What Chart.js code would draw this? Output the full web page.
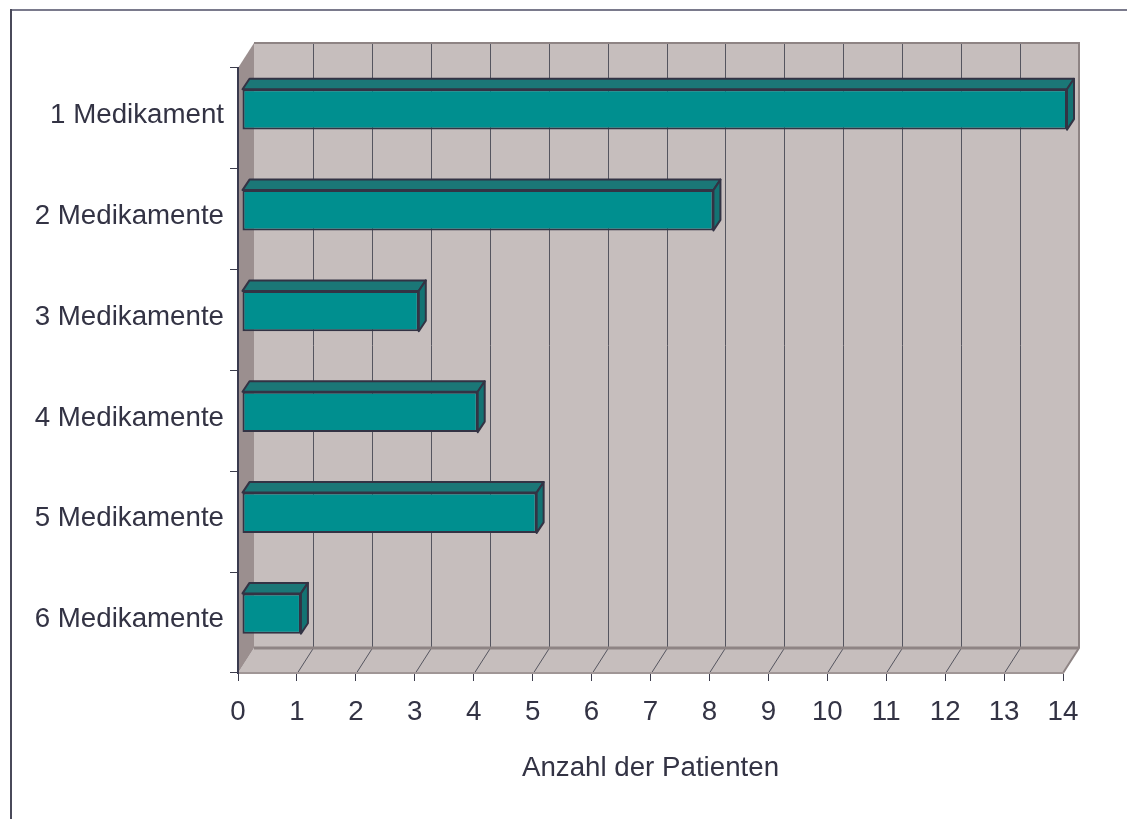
<!DOCTYPE html>
<html>
<head>
<meta charset="utf-8">
<script src="https://cdn.jsdelivr.net/npm/chart.js@4/dist/chart.umd.min.js"></script>
<style>
  html, body { margin: 0; padding: 0; background: #fff; }
  canvas { display: block; }
</style>
</head>
<body>
<canvas id="chart" width="1127" height="819"></canvas>
<script>
const categories = ['1 Medikament', '2 Medikamente', '3 Medikamente', '4 Medikamente', '5 Medikamente', '6 Medikamente'];
const patients = [14, 8, 3, 4, 5, 1];
const xMin = 0;
const xMax = 14;
const xStep = 1;
const axisTitle = 'Anzahl der Patienten';

const FONT = "'Liberation Sans', Arial, sans-serif";
const textColor = '#333344';
const wallColor = '#c6bebd';
const sideWallColor = '#9b8f8f';
const edgeColor = '#8e8484';
const depth = { x: 16, y: -25 };      // back wall offset
const barDepth = { x: 7, y: -10.5 };  // bar top/side faces
const barShift = { x: 4, y: -9 };     // bars sit a bit into the box

const scene = {
  id: 'scene',
  beforeDraw(chart) {
    const { ctx, chartArea: a } = chart;
    const x = chart.scales.x;
    ctx.save();
    ctx.fillStyle = '#fff';
    ctx.fillRect(0, 0, chart.width, chart.height);

    // outer frame (only top and left visible)
    ctx.lineWidth = 2;
    ctx.strokeStyle = '#7a7a8c';
    ctx.beginPath(); ctx.moveTo(10, 10); ctx.lineTo(chart.width, 10); ctx.stroke();
    ctx.strokeStyle = '#4a4a5a';
    ctx.beginPath(); ctx.moveTo(11, 9); ctx.lineTo(11, chart.height); ctx.stroke();

    const bl = a.left + depth.x, br = a.right + depth.x;
    const bt = a.top + depth.y, bb = a.bottom + depth.y;

    // back wall
    ctx.fillStyle = wallColor;
    ctx.fillRect(bl, bt, br - bl, bb - bt);

    // floor
    ctx.beginPath();
    ctx.moveTo(a.left, a.bottom);
    ctx.lineTo(bl, bb);
    ctx.lineTo(br, bb);
    ctx.lineTo(a.right, a.bottom);
    ctx.closePath();
    ctx.fill();

    // left wall
    ctx.fillStyle = sideWallColor;
    ctx.beginPath();
    ctx.moveTo(a.left, a.top);
    ctx.lineTo(bl, bt);
    ctx.lineTo(bl, bb);
    ctx.lineTo(a.left, a.bottom);
    ctx.closePath();
    ctx.fill();

    // grid on back wall and floor
    ctx.strokeStyle = '#55555f';
    ctx.lineWidth = 1;
    x.ticks.forEach(t => {
      if (t.value <= xMin || t.value >= xMax) return;
      const px = Math.round(x.getPixelForValue(t.value)) + 0.5;
      ctx.beginPath();
      ctx.moveTo(px + depth.x, bt);
      ctx.lineTo(px + depth.x, bb);
      ctx.moveTo(px, a.bottom);
      ctx.lineTo(px + depth.x, bb);
      ctx.stroke();
    });

    // box edges
    ctx.strokeStyle = edgeColor;
    ctx.lineWidth = 2;
    ctx.beginPath();
    ctx.moveTo(bl, bt);
    ctx.lineTo(br, bt);
    ctx.lineTo(br, bb);
    ctx.lineTo(a.right, a.bottom);
    ctx.stroke();
    ctx.lineWidth = 3;
    ctx.beginPath();
    ctx.moveTo(bl, bb);
    ctx.lineTo(br, bb);
    ctx.stroke();
    ctx.restore();
  },
  beforeDatasetsDraw(chart) {
    chart.ctx.save();
    chart.ctx.translate(barShift.x, barShift.y);
  },
  afterDatasetsDraw(chart) {
    const ctx = chart.ctx;
    const meta = chart.getDatasetMeta(0);
    ctx.lineWidth = 2;
    ctx.lineJoin = 'round';
    ctx.strokeStyle = '#333344';
    meta.data.forEach(bar => {
      const { x, y, base, height } = bar.getProps(['x', 'y', 'base', 'height'], true);
      const top = y - height / 2, bottom = y + height / 2;
      // top face
      ctx.fillStyle = '#1b7777';
      ctx.beginPath();
      ctx.moveTo(base, top);
      ctx.lineTo(base + barDepth.x, top + barDepth.y);
      ctx.lineTo(x + barDepth.x, top + barDepth.y);
      ctx.lineTo(x, top);
      ctx.closePath();
      ctx.fill();
      ctx.stroke();
      // side face
      ctx.fillStyle = '#137373';
      ctx.beginPath();
      ctx.moveTo(x, top);
      ctx.lineTo(x + barDepth.x, top + barDepth.y);
      ctx.lineTo(x + barDepth.x, bottom + barDepth.y);
      ctx.lineTo(x, bottom);
      ctx.closePath();
      ctx.fill();
      ctx.stroke();
    });
    ctx.restore();
  }
};

new Chart(document.getElementById('chart'), {
  type: 'bar',
  data: {
    labels: categories,
    datasets: [{
      data: patients,
      backgroundColor: '#008f8f',
      borderColor: '#333344',
      borderWidth: 2,
      borderSkipped: false,
      categoryPercentage: 1,
      barPercentage: 0.4
    }]
  },
  options: {
    indexAxis: 'y',
    responsive: false,
    animation: false,
    events: [],
    layout: { padding: { top: 68, right: 64, left: 0, bottom: 0 } },
    plugins: { legend: { display: false }, tooltip: { enabled: false } },
    scales: {
      x: {
        type: 'linear',
        min: xMin,
        max: xMax,
        ticks: { stepSize: xStep, font: { family: FONT, size: 27.7 }, color: textColor, padding: 15 },
        grid: { drawOnChartArea: false, tickLength: 8, color: '#3c3c4c' },
        border: { color: '#a09696', width: 2 },
        title: { display: true, text: axisTitle, font: { family: FONT, size: 27.7 }, color: textColor, padding: { top: 0, bottom: 34 } },
        afterFit: s => { s.height = 146; }
      },
      y: {
        ticks: { font: { family: FONT, size: 27.7 }, color: textColor, padding: 6, labelOffset: -3 },
        grid: { drawOnChartArea: false, tickLength: 8, color: '#3c3c4c' },
        border: { color: '#3a3a4e', width: 2 },
        afterFit: s => { s.width = 238; }
      }
    }
  },
  plugins: [scene]
});
</script>
</body>
</html>
